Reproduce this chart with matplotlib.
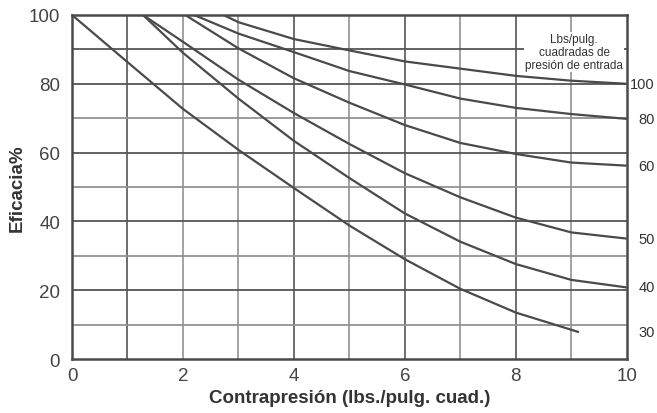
import matplotlib.pyplot as plt
import numpy as np

plt.rcParams['font.family'] = ['Liberation Sans', 'DejaVu Sans']

# curvas: presión de entrada (lbs/pulg.²) -> (contrapresión, eficacia)
x_30 = [0, 1, 2, 3, 4, 5, 6, 7, 8, 9.14]
y_30 = [100, 86.3, 72.7, 60.8, 49.7, 38.8, 29, 20.4, 13.5, 7.8]

x_40 = [1.28, 2, 3, 4, 5, 6, 7, 8, 9, 10]
y_40 = [100, 89, 75.7, 63.4, 52.6, 42.3, 34.1, 27.6, 23, 20.8]

x_50 = [1.28, 2, 3, 4, 5, 6, 7, 8, 9, 10]
y_50 = [100, 92.2, 81.2, 71.5, 62.5, 54, 47, 41.1, 36.8, 35]

x_60 = [2.04, 3, 4, 5, 6, 7, 8, 9, 10]
y_60 = [100, 90.3, 81.6, 74.5, 68, 62.8, 59.6, 57.1, 56.2]

x_80 = [2.2, 3, 4, 5, 6, 7, 8, 9, 10]
y_80 = [100, 94.6, 89.2, 83.7, 79.8, 75.7, 73, 71.2, 69.8]

x_100 = [2.73, 3, 4, 5, 6, 7, 8, 9, 10]
y_100 = [100, 97.9, 93, 89.7, 86.5, 84.4, 82.3, 80.9, 80]

curvas = [('30', x_30, y_30), ('40', x_40, y_40), ('50', x_50, y_50),
          ('60', x_60, y_60), ('80', x_80, y_80), ('100', x_100, y_100)]

fig = plt.figure(figsize=(6.57, 4.14), dpi=100)
ax = fig.add_axes([0.1096, 0.1304, 0.8444, 0.831])

# rejilla (líneas oscuras y claras como en el original)
oscuro, claro = '#555555', '#939393'
for gx in range(1, 10):
    ax.axvline(gx, color=oscuro if gx in (1, 4, 6, 8) else claro, lw=1.2, zorder=1)
for gy in range(10, 100, 10):
    ax.axhline(gy, color=oscuro if gy % 20 == 0 or gy == 90 else claro, lw=1.3, zorder=1)

linea = '#4a4a4a'
for etiqueta, xs, ys in curvas:
    ax.plot(xs, ys, color=linea, lw=1.6, zorder=3, solid_capstyle='butt')
    ax.text(10.5, ys[-1], etiqueta, ha='right', va='center', fontsize=10.5,
            color='#333333', clip_on=False)

ax.text(9.05, 89.3, 'Lbs/pulg.\ncuadradas de\npresión de entrada', ha='center',
        va='center', fontsize=8.5, color='#333333', linespacing=1.08, zorder=4,
        bbox=dict(facecolor='white', edgecolor='none', pad=1))

ax.set_xlim(0, 10)
ax.set_ylim(0, 100)
ax.set_xticks(np.arange(0, 11, 2))
ax.set_yticks(np.arange(0, 101, 20))
ax.tick_params(length=0, labelsize=13.5, labelcolor='#444444')
ax.tick_params(axis='y', pad=8.5)
ax.tick_params(axis='x', pad=5.5)

for s in ax.spines.values():
    s.set_color('#4a4a4a')
    s.set_linewidth(1.8)
    s.set_zorder(5)

ax.set_xlabel('Contrapresión (lbs./pulg. cuad.)', fontsize=13.5, fontweight='bold',
              color='#333333', labelpad=4)
ax.set_ylabel('Eficacia%', fontsize=13.5, fontweight='bold', color='#333333', labelpad=2)

fig.savefig('out.png', dpi=100)
